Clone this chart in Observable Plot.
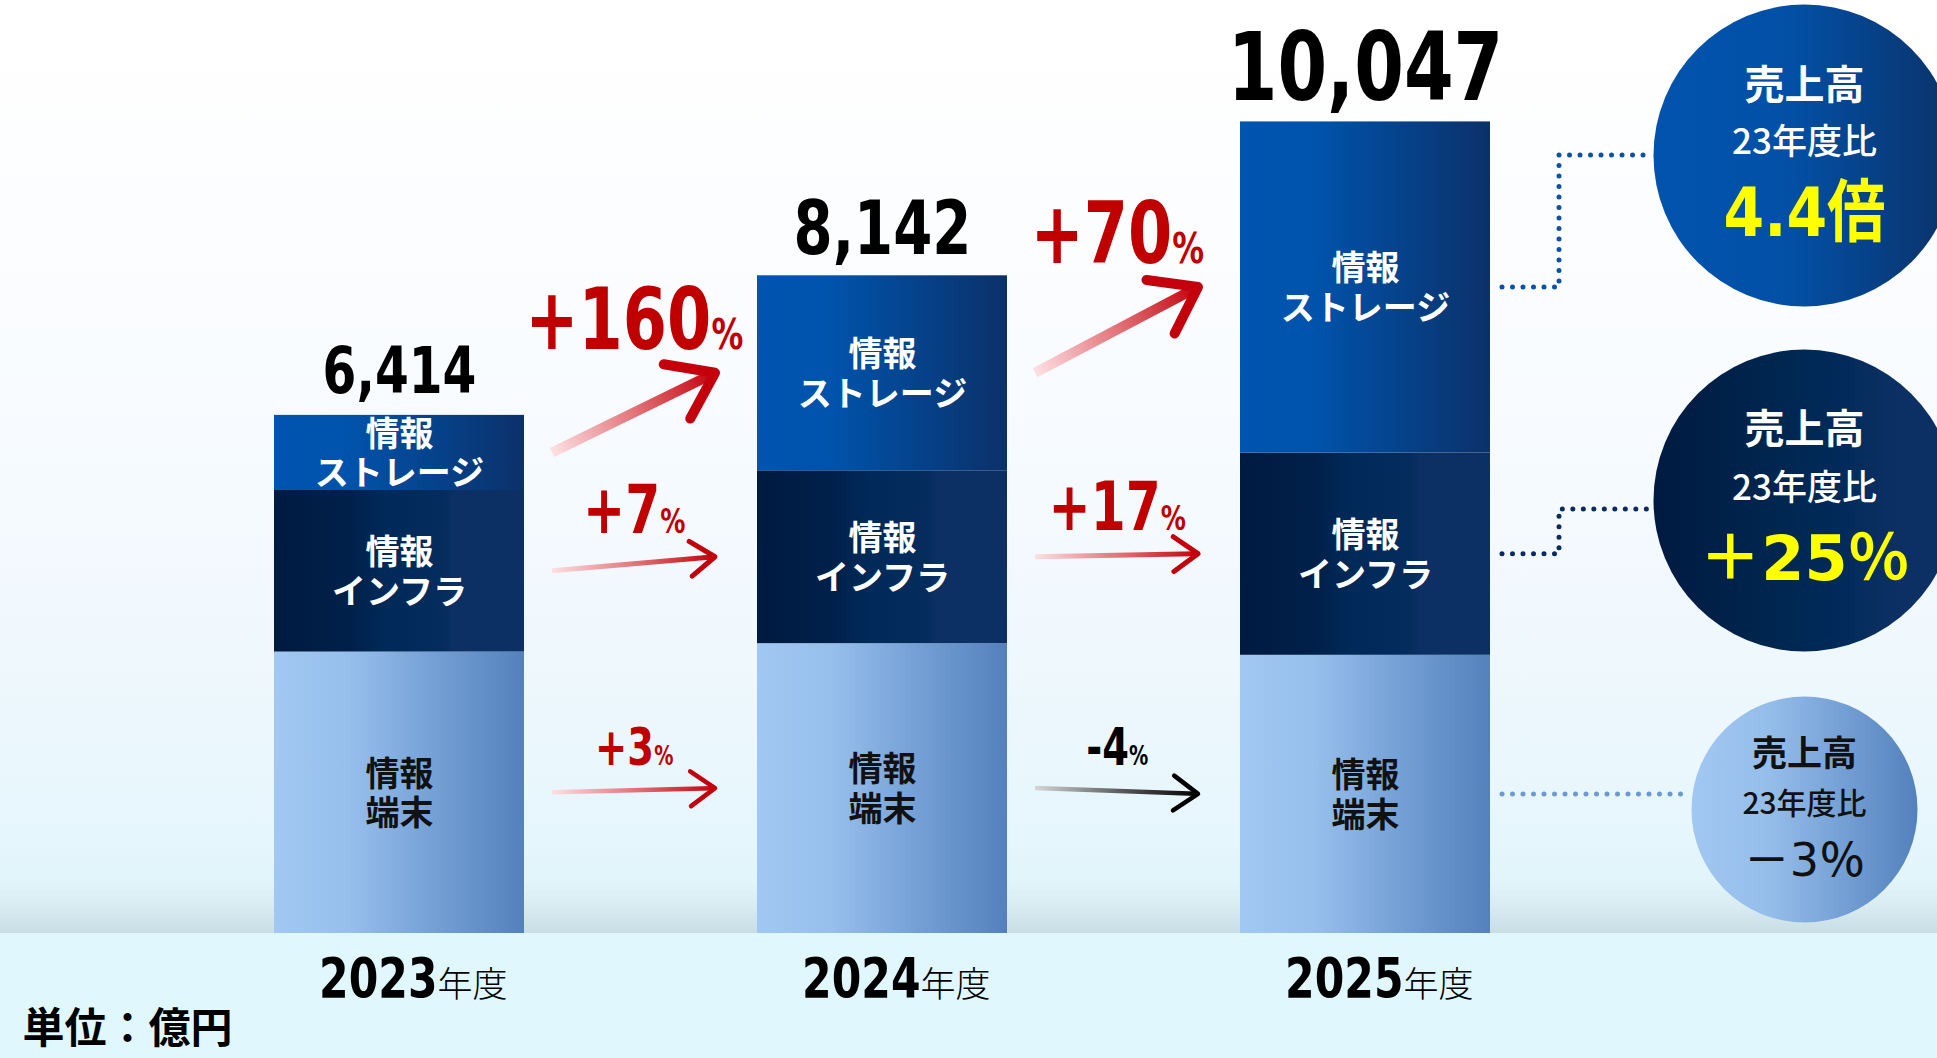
<!DOCTYPE html>
<html><head><meta charset="utf-8">
<script src="https://cdn.jsdelivr.net/npm/d3@7"></script>
<script src="https://cdn.jsdelivr.net/npm/@observablehq/plot@0.6"></script>
<style>
html,body{margin:0;padding:0;overflow:hidden;width:1937px;height:1058px;
background:linear-gradient(180deg,#ffffff 0px,#fcfdff 250px,#f3f9fe 560px,#e9f7fd 780px,#e2f5fb 880px,#d9ecf2 905px,#c8dde4 933px,#dff7fd 933px,#dff7fd 1058px);}
#chart svg{display:block;}
</style></head><body><div id="chart"></div>
<script>
// ---- data ----
const years = ["2023年度", "2024年度", "2025年度"];
const segments = ["情報端末", "情報インフラ", "情報ストレージ"];
const segmentLabels = ["情報\n端末", "情報\nインフラ", "情報\nストレージ"];
const terminalSales = [3484, 3588, 3444];
const infraSales = [2000, 2140, 2504];
const storageSales = [930, 2414, 4099];
const totals = [6414, 8142, 10047];
const totalLabels = ["6,414", "8,142", "10,047"];
const terminalGrowth = ["+3%", "-4%"];
const infraGrowth = ["+7%", "+17%"];
const storageGrowth = ["+160%", "+70%"];
const summaryHead = "売上高";
const summarySub = "23年度比";
const summaryValues = ["4.4倍", "＋25％", "－3％"]; // storage, infra, terminal
const unitLabel = "単位：億円";

// ---- derived tables ----
const segValues = [terminalSales, infraSales, storageSales];
const growthLabels = [terminalGrowth, infraGrowth, storageGrowth];
const rows = [];
years.forEach((yr, i) => {
  let acc = 0;
  segValues.forEach((vals, j) => {
    const v = vals[i];
    rows.push({year: yr, seg: segments[j], label: segmentLabels[j], j, i, value: v, y1: acc, y2: acc + v, mid: acc + v / 2});
    acc += v;
  });
});
const mid = (i, j) => rows.find(r => r.i === i && r.j === j).mid;
const transitions = [];
segments.forEach((s, j) => {
  for (let i = 0; i < years.length - 1; i++) {
    transitions.push({from: years[i], to: years[i + 1], j, seg: s, m1: mid(i, j), m2: mid(i + 1, j), label: growthLabels[j][i]});
  }
});
const totalRows = years.map((yr, i) => ({year: yr, total: totals[i], label: totalLabels[i], i}));

// ---- layout ----
const W = 1937, H = 1058;
const mL = 273, mR = 447, mT = 0, mB = 125;
const padIn = 0.483;
const step = (W - mL - mR) / (years.length - padIn);
const bandW = step * (1 - padIn);
const NUM = "'DejaVu Sans','Noto Sans CJK JP',sans-serif";
const CJK = "'Noto Sans CJK JP',sans-serif";
const circles = [
  {cx: 1804, cy: 155, r: 151, fill: "url(#gcirc1)", color: "#ffffff", valColor: "#ffff00", offs: [-69, -13, 59], sizes: [40, 35, 68]},
  {cx: 1804, cy: 500, r: 151, fill: "url(#gcirc2)", color: "#ffffff", valColor: "#ffff00", offs: [-70, -12, 60], sizes: [40, 35, 62]},
  {cx: 1804, cy: 809, r: 113, fill: "url(#gcirc3)", color: "#111111", valColor: "#111111", offs: [-55, -5, 52], sizes: [35, 30, 46]}
];
const arrowStyle = [{w: 4.5, head: 30}, {w: 5, head: 30}, {w: 10, head: 52}];
const pctSize = [52, 68, 86];

function arrowsMark(index, scales) {
  const x = scales.x, y = scales.y;
  const bw = x.bandwidth ? x.bandwidth() : bandW;
  const g = d3.create("svg:g");
  const defs = g.append("defs");
  transitions.forEach((t, k) => {
    const xs = x(t.from) + bw + 28, xe = x(t.to) - 42;
    const ys = y(t.m1), ye = y(t.m2);
    const st = arrowStyle[t.j];
    const neg = t.label.startsWith("-");
    const id = "arrowgrad" + k;
    const lg = defs.append("linearGradient").attr("id", id).attr("gradientUnits", "userSpaceOnUse")
      .attr("x1", xs).attr("y1", ys).attr("x2", xe).attr("y2", ye);
    lg.append("stop").attr("offset", 0).attr("stop-color", neg ? "#d6d6d6" : "#fde0e3");
    lg.append("stop").attr("offset", 0.55).attr("stop-color", neg ? "#555" : "#e06a70");
    lg.append("stop").attr("offset", 1).attr("stop-color", neg ? "#000" : "#c3000b");
    const ang = Math.atan2(ye - ys, xe - xs);
    const a1 = ang + Math.PI - 0.62, a2 = ang + Math.PI + 0.62;
    const h = st.head;
    const tipBack = st.w * 0.6;
    g.append("path")
      .attr("d", `M${xs},${ys}L${xe - tipBack * Math.cos(ang)},${ye - tipBack * Math.sin(ang)}`)
      .attr("fill", "none").attr("stroke", `url(#${id})`).attr("stroke-width", st.w).attr("stroke-linecap", "butt");
    g.append("path")
      .attr("d", `M${xe + h * Math.cos(a1)},${ye + h * Math.sin(a1)}L${xe},${ye}L${xe + h * Math.cos(a2)},${ye + h * Math.sin(a2)}`)
      .attr("fill", "none").attr("stroke", neg ? "#000" : "#c3000b").attr("stroke-width", st.w)
      .attr("stroke-linecap", "round").attr("stroke-linejoin", "round");
  });
  return g.node();
}

function connectorsMark(index, scales) {
  const x = scales.x, y = scales.y;
  const bw = x.bandwidth ? x.bandwidth() : bandW;
  const last = years[years.length - 1];
  const xr = x(last) + bw + 12;
  const elbow = x(last) + bw + 69;
  const g = d3.create("svg:g");
  const cols = ["#6e99d0", "#0b2b5c", "#0c52a4"];
  const targets = [circles[2], circles[1], circles[0]];
  segments.forEach((s, j) => {
    const yy = y(mid(years.length - 1, j));
    const c = targets[j];
    let d;
    if (j === 0) d = `M${xr},${yy}L${c.cx - c.r},${yy}`;
    else {
      const ty = j === 1 ? c.cy + 9 : c.cy;
      d = `M${xr},${yy}L${elbow},${yy}L${elbow},${ty}L${c.cx - c.r},${ty}`;
    }
    g.append("path").attr("d", d).attr("fill", "none").attr("stroke", cols[j])
      .attr("stroke-width", 5).attr("stroke-linecap", "round").attr("stroke-linejoin", "round")
      .attr("stroke-dasharray", "0 10.5");
  });
  return g.node();
}

const circleTextMarks = [];
circles.forEach((c, k) => {
  const base = {frameAnchor: "top-left", dx: c.cx - mL, textAnchor: "middle", lineAnchor: "middle"};
  circleTextMarks.push(Plot.text([summaryHead], {...base, dy: c.cy + c.offs[0], fill: c.color, fontFamily: CJK, fontWeight: 700, fontSize: c.sizes[0]}));
  circleTextMarks.push(Plot.text([summarySub], {...base, dy: c.cy + c.offs[1], fill: c.color, fontFamily: CJK, fontWeight: 500, fontSize: c.sizes[1]}));
  circleTextMarks.push(Plot.text([summaryValues[k]], {...base, dy: c.cy + c.offs[2], fill: c.valColor, fontFamily: NUM, fontWeight: k === 2 ? 500 : 700, fontSize: c.sizes[2]}));
});

const chart = Plot.plot({
  width: W, height: H,
  marginLeft: mL, marginRight: mR, marginTop: mT, marginBottom: mB,
  style: {background: "transparent", overflow: "visible"},
  x: {domain: years, paddingInner: padIn, paddingOuter: 0, align: 0.5, axis: null},
  y: {domain: [0, 11550], axis: null},
  color: {domain: segments, range: ["url(#gterm)", "url(#ginfra)", "url(#gstor)"]},
  marks: [
    Plot.barY(rows, {x: "year", y1: "y1", y2: "y2", fill: "seg"}),
    Plot.text(rows, {filter: d => d.j === 0, x: "year", y: "mid", text: "label", fill: "#111", fontFamily: CJK, fontWeight: 700, fontSize: 34, lineHeight: 1.16}),
    Plot.text(rows, {filter: d => d.j > 0, x: "year", y: "mid", text: "label", fill: "#ffffff", fontFamily: CJK, fontWeight: 700, fontSize: 34, lineHeight: 1.16}),
    Plot.text(totalRows, {x: "year", y: "total", text: "label", dy: -22, lineAnchor: "bottom", fill: "#000", fontFamily: NUM, fontWeight: 700, fontSize: d => [64, 74, 94][d.i]}),
    arrowsMark,
    Plot.text(transitions, {filter: d => !d.label.startsWith("-"), x: "from", y: d => Math.max(d.m1, d.m2), text: "label", dx: (step - 14) / 2, dy: -24, lineAnchor: "bottom", fill: "#c00000", fontFamily: NUM, fontWeight: 700, fontSize: d => pctSize[d.j]}),
    Plot.text(transitions, {filter: d => d.label.startsWith("-"), x: "from", y: d => Math.max(d.m1, d.m2), text: "label", dx: (step - 14) / 2, dy: -24, lineAnchor: "bottom", fill: "#000", fontFamily: NUM, fontWeight: 700, fontSize: d => pctSize[d.j]}),
    Plot.axisX({tickFormat: d => d.slice(0, 4), tickSize: 0, tickPadding: 0, textAnchor: "end", dx: 38, dy: 63, lineAnchor: "bottom", fontSize: 56, fontWeight: 700, fontFamily: NUM, fill: "#000", label: null}),
    Plot.axisX({tickFormat: d => d.slice(4), tickSize: 0, tickPadding: 0, textAnchor: "start", dx: 38, dy: 63, lineAnchor: "bottom", fontSize: 35, fontWeight: 300, fontFamily: CJK, fill: "#000", label: null}),
    connectorsMark,
    ...circles.map(c => Plot.dot([0], {frameAnchor: "top-left", dx: c.cx - mL, dy: c.cy, r: c.r, fill: c.fill, stroke: "none"})),
    ...circleTextMarks,
    Plot.text([unitLabel], {frameAnchor: "bottom-left", dx: 22 - mL, dy: 96, textAnchor: "start", lineAnchor: "middle", fill: "#000", fontFamily: CJK, fontWeight: 700, fontSize: 42})
  ]
});

// gradients
const defs = d3.select(chart).insert("defs", ":first-child");
function grad(id, stops) {
  const lg = defs.append("linearGradient").attr("id", id).attr("x1", 0).attr("y1", 0).attr("x2", 1).attr("y2", 0);
  stops.forEach(([o, c]) => lg.append("stop").attr("offset", o).attr("stop-color", c));
}
grad("gterm", [[0, "#a1c8f2"], [0.3, "#97bfec"], [0.65, "#739fd5"], [1, "#5481bb"]]);
grad("ginfra", [[0, "#001a40"], [0.3, "#00204a"], [0.45, "#002a59"], [0.68, "#052c5c"], [0.72, "#0c3063"], [1, "#0c3064"]]);
grad("gstor", [[0, "#0055b0"], [0.3, "#0053ab"], [1, "#0b3169"]]);
grad("gcirc1", [[0, "#0053ad"], [0.45, "#0250a6"], [1, "#0b3268"]]);
grad("gcirc2", [[0, "#001a40"], [0.4, "#00264f"], [0.6, "#002a59"], [0.8, "#0c3063"], [1, "#0c3064"]]);
grad("gcirc3", [[0, "#a1c8f2"], [0.35, "#95bdea"], [0.7, "#719dd3"], [1, "#5481bb"]]);

// smaller % sign in growth labels
const allText = () => d3.select(chart).selectAll("text");
allText().filter(function () { return /^[+\-]\d+%$/.test(this.textContent); })
  .each(function () {
    const t = this.textContent;
    const sel = d3.select(this);
    sel.text(null);
    sel.append("tspan").text(t.slice(0, -1));
    sel.append("tspan").attr("font-size", "0.5em").text("%");
  });

document.getElementById("chart").appendChild(chart);

// condensed numerals: squeeze horizontally about each text's anchor edge
function squeeze(test, f) {
  allText().filter(function () { return test(this.textContent); }).each(function () {
    const b = this.getBBox();
    const anchor = getComputedStyle(this).textAnchor;
    const px = anchor === "end" ? b.x + b.width : anchor === "start" ? b.x : b.x + b.width / 2;
    const tr = this.getAttribute("transform") || "";
    this.setAttribute("transform", `${tr} translate(${px},0) scale(${f},1) translate(${-px},0)`.trim());
  });
}
squeeze(t => /^\d{1,2},\d{3}$/.test(t), 0.76);
squeeze(t => /^[+\-]\d+%$/.test(t), 0.74);
squeeze(t => /^\d{4}$/.test(t), 0.76);
squeeze(t => t === summaryValues[0], 0.86);
</script>
</body></html>
